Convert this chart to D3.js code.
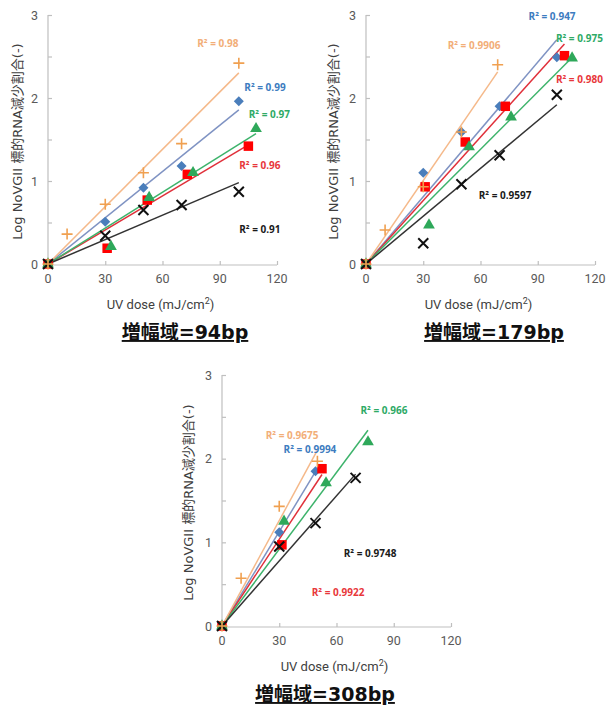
<!DOCTYPE html>
<html><head><meta charset="utf-8">
<script src="https://cdn.jsdelivr.net/npm/d3@7"></script>
<style>
html,body{margin:0;padding:0;background:#fff;}
svg{display:block;}
</style></head>
<body>
<script>
// ---------------- DATA ----------------
const captions = ["増幅域=94bp", "増幅域=179bp", "増幅域=308bp"];
const xTicks = [0, 30, 60, 90, 120];
const yTicks = [0, 1, 2, 3];
const yMinorTicks = [0, 0.5, 1, 1.5, 2, 2.5, 3];
const seriesNames = ["blue", "red", "green", "black", "orange"];

// 94bp
const bp94_blue   = [[0,0],[30,0.51],[50,0.92],[70,1.18],[100,1.96]];
const bp94_red    = [[0,0],[31,0.19],[52,0.77],[73,1.08],[105,1.42]];
const bp94_green  = [[0,0],[33,0.21],[53,0.80],[76,1.10],[109,1.63]];
const bp94_black  = [[0,0],[30,0.34],[50,0.65],[70,0.71],[100,0.87]];
const bp94_orange = [[0,0],[10,0.36],[30,0.72],[50,1.10],[70,1.45],[100,2.42]];
const bp94_r2 = ["R² = 0.99", "R² = 0.96", "R² = 0.97", "R² = 0.91", "R² = 0.98"];

// 179bp
const bp179_blue   = [[0,0],[30,1.10],[50,1.59],[70,1.90],[100,2.49]];
const bp179_red    = [[0,0],[31,0.93],[52,1.47],[73,1.90],[104,2.51]];
const bp179_green  = [[0,0],[33,0.47],[54,1.41],[76,1.77],[108,2.48]];
const bp179_black  = [[0,0],[30,0.25],[50,0.96],[70,1.31],[100,2.04]];
const bp179_orange = [[0,0],[10,0.41],[30,0.93],[50,1.59],[69,2.40]];
const bp179_r2 = ["R² = 0.947", "R² = 0.980", "R² = 0.975", "R² = 0.9597", "R² = 0.9906"];

// 308bp
const bp308_blue   = [[0,0],[30,1.12],[49,1.85]];
const bp308_red    = [[0,0],[31.4,0.97],[52.4,1.88]];
const bp308_green  = [[0,0],[32.5,1.25],[54.5,1.71],[76.5,2.20]];
const bp308_black  = [[0,0],[30,0.95],[49,1.23],[70,1.77]];
const bp308_orange = [[0,0],[10,0.57],[30,1.43],[50,1.97]];
const bp308_r2 = ["R² = 0.9994", "R² = 0.9922", "R² = 0.966", "R² = 0.9748", "R² = 0.9675"];

// ---------------- LAYOUT / STYLE ----------------
const panels = [
  {series:[bp94_blue,bp94_red,bp94_green,bp94_black,bp94_orange], r2:bp94_r2,
   left:48, right:277, top:15, bottom:264, titleX:17, capX:185,
   labelPos:[[113.7,2.13,"middle"],[111,1.19,"middle"],[116,1.80,"middle"],[111,0.42,"middle"],[89,2.66,"middle"]]},
  {series:[bp179_blue,bp179_red,bp179_green,bp179_black,bp179_orange], r2:bp179_r2,
   left:366, right:595, top:15, bottom:264, titleX:333, capX:494,
   labelPos:[[97.5,2.98,"middle"],[99.5,2.22,"start"],[99.5,2.72,"start"],[72.9,0.83,"middle"],[56.6,2.63,"middle"]]},
  {series:[bp308_blue,bp308_red,bp308_green,bp308_black,bp308_orange], r2:bp308_r2,
   left:222, right:451, top:375, bottom:626, titleX:188, capX:325,
   labelPos:[[46.1,2.11,"middle"],[60.8,0.40,"middle"],[84.9,2.57,"middle"],[77.6,0.87,"middle"],[36.7,2.28,"middle"]]}
];

const style = {
  blue:   {marker:"#4A7EBB", line:"#7F93C3", text:"#3D7CC0"},
  red:    {marker:"#FF0000", line:"#E0303A", text:"#E8373B"},
  green:  {marker:"#2EA85A", line:"#3DB36B", text:"#2EAA66"},
  black:  {marker:"#111111", line:"#333333", text:"#1a1a1a"},
  orange: {marker:"#F0A050", line:"#F5B98A", text:"#F2AE78"}
};

const W = 607, H = 706;
const svg = d3.select("body").append("svg").attr("width", W).attr("height", H)
  .style("background", "#fff");

const tickFont = "'Liberation Sans Narrow', Roboto, sans-serif";
const axisColor = "#BFBFBF";

panels.forEach((p, pi) => {
  const x = d3.scaleLinear().domain([0, 120]).range([p.left, p.right]);
  const y = d3.scaleLinear().domain([0, 3]).range([p.bottom, p.top]);
  const g = svg.append("g");

  // y axis
  const yAx = g.append("g").attr("transform", `translate(${p.left},0)`)
    .call(d3.axisRight(y).tickValues(yMinorTicks).tickSize(4).tickFormat(""));
  yAx.select(".domain").attr("stroke", axisColor).attr("stroke-width", 1.2).attr("d", `M0,${p.bottom}V${p.top}`);
  yAx.selectAll(".tick line").attr("stroke", axisColor).attr("stroke-width", 1.2);
  g.append("g").selectAll("text").data(yTicks).join("text")
    .attr("x", p.left - 10).attr("y", d => y(d)).attr("dy", "0.36em")
    .attr("text-anchor", "end").attr("font-family", tickFont).attr("font-size", 12.5)
    .attr("fill", "#595959").text(d => d);

  // x axis
  const xAx = g.append("g").attr("transform", `translate(0,${p.bottom + 1})`)
    .call(d3.axisTop(x).tickValues(xTicks).tickSize(4).tickFormat(""));
  xAx.select(".domain").attr("stroke", axisColor).attr("stroke-width", 1.2).attr("d", `M${p.left},0H${p.right}`);
  xAx.selectAll(".tick line").attr("stroke", axisColor).attr("stroke-width", 1.2);
  g.append("g").selectAll("text").data(xTicks).join("text")
    .attr("x", d => x(d)).attr("y", p.bottom + 19)
    .attr("text-anchor", "middle").attr("font-family", tickFont).attr("font-size", 12.5)
    .attr("fill", "#595959").text(d => d);

  // axis titles
  const xt = g.append("text").attr("x", (p.left + p.right) / 2 - 2).attr("y", p.bottom + 45)
    .attr("text-anchor", "middle").attr("font-family", tickFont).attr("font-size", 13)
    .attr("fill", "#404040");
  xt.append("tspan").text("UV dose (mJ/cm");
  xt.append("tspan").attr("font-size", 9).attr("dy", -5).text("2");
  xt.append("tspan").attr("dy", 5).text(")");

  g.append("text")
    .attr("transform", `translate(${p.titleX},${(p.top + p.bottom) / 2 + 2}) rotate(-90)`)
    .attr("text-anchor", "middle").attr("dy", "0.35em")
    .attr("font-family", "'DejaVu Sans', 'Noto Sans CJK JP', sans-serif").attr("font-size", 13)
    .attr("fill", "#404040").text("Log NoVGII 標的RNA減少割合(-)");

  // caption
  g.append("text").attr("x", p.capX).attr("y", p.bottom + 75)
    .attr("text-anchor", "middle").attr("font-family", "'DejaVu Sans', 'Noto Sans CJK JP', sans-serif")
    .attr("font-weight", "bold").attr("font-size", 19).attr("fill", "#111")
    .style("text-decoration", "underline").text(captions[pi]);

  // series
  p.series.forEach((data, si) => {
    const name = seriesNames[si];
    const st = style[name];
    const sxy = d3.sum(data, d => d[0] * d[1]);
    const sxx = d3.sum(data, d => d[0] * d[0]);
    const slope = sxy / sxx;
    const xmax = d3.max(data, d => d[0]);
    g.append("line")
      .attr("x1", x(0)).attr("y1", y(0)).attr("x2", x(xmax)).attr("y2", y(slope * xmax))
      .attr("stroke", st.line).attr("stroke-width", 1.5);
  });
  p.series.forEach((data, si) => {
    const name = seriesNames[si];
    const st = style[name];
    const mg = g.append("g");
    data.forEach(d => {
      const cx = x(d[0]), cy = y(d[1]);
      if (name === "blue") {
        mg.append("path").attr("d", `M${cx},${cy-5}L${cx+5},${cy}L${cx},${cy+5}L${cx-5},${cy}Z`).attr("fill", st.marker);
      } else if (name === "red") {
        mg.append("path").attr("d", d3.symbol(d3.symbolSquare, 90)()).attr("transform", `translate(${cx},${cy})`).attr("fill", st.marker);
      } else if (name === "green") {
        mg.append("path").attr("d", d3.symbol(d3.symbolTriangle, 60)()).attr("transform", `translate(${cx},${cy})`).attr("fill", st.marker);
      } else if (name === "black") {
        mg.append("path").attr("d", `M${cx-5},${cy-5}L${cx+5},${cy+5}M${cx-5},${cy+5}L${cx+5},${cy-5}`)
          .attr("stroke", st.marker).attr("stroke-width", 2).attr("fill", "none");
      } else {
        mg.append("path").attr("d", `M${cx-5.5},${cy}H${cx+5.5}M${cx},${cy-5.5}V${cy+5.5}`)
          .attr("stroke", st.marker).attr("stroke-width", 1.6).attr("fill", "none");
      }
    });
  });

  // R² labels
  p.r2.forEach((t, si) => {
    const lp = p.labelPos[si];
    g.append("text").attr("x", x(lp[0])).attr("y", y(lp[1])).attr("dy", "0.35em")
      .attr("text-anchor", lp[2]).attr("font-family", "'Open Sans', sans-serif")
      .attr("font-weight", "bold").attr("font-size", 10)
      .attr("fill", style[seriesNames[si]].text).text(t);
  });
});
</script>
</body></html>
